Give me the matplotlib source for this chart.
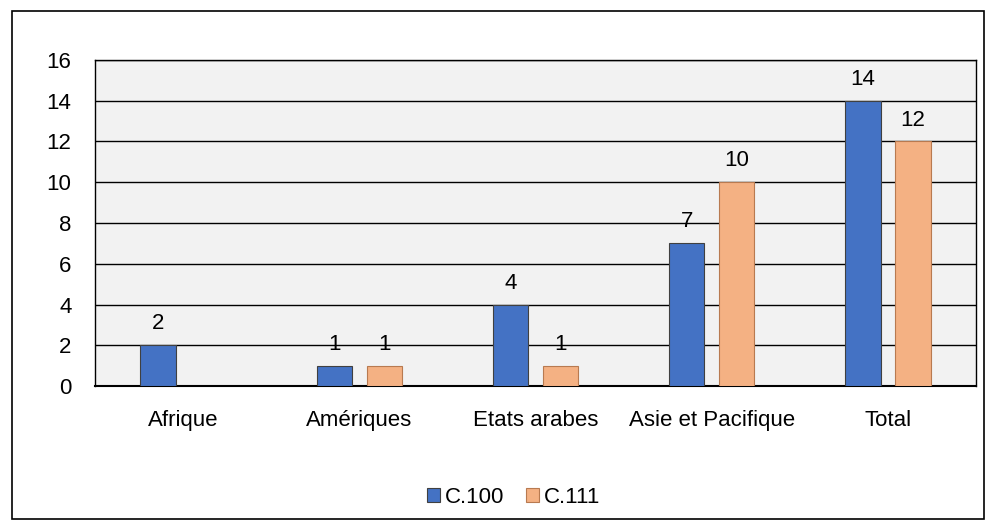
import matplotlib.pyplot as plt
import numpy as np
from matplotlib.patches import Rectangle

plt.rcParams['font.family'] = ['Liberation Sans', 'DejaVu Sans']

regions = ["Afrique", "Amériques", "Etats arabes", "Asie et Pacifique", "Total"]
c100 = [2, 1, 4, 7, 14]
c111 = [0, 1, 1, 10, 12]
yticks = [0, 2, 4, 6, 8, 10, 12, 14, 16]

fs = 16

fig = plt.figure(figsize=(9.97, 5.29), dpi=100)
ax = fig.add_axes([0.0953, 0.2703, 0.8837, 0.6163])
ax.set_facecolor("#f2f2f2")

x = np.arange(len(regions))
w = 0.2
off = 0.142
b1 = ax.bar(x - off, c100, w, color="#4472c4", edgecolor="#404040", linewidth=0.8,
            label="C.100", zorder=3)
c111_vals = [v if v else np.nan for v in c111]
b2 = ax.bar(x + off, c111_vals, w, color="#f4b183", edgecolor="#b87a50", linewidth=0.8,
            label="C.111", zorder=3)

# value labels above each bar
for xs, vals in ((x - off, c100), (x + off, c111)):
    for xi, v in zip(xs, vals):
        if v:
            ax.annotate(str(v), (xi, v), xytext=(0, 11.5), textcoords="offset points",
                        ha="center", va="baseline", fontsize=fs)

ax.set_xlim(-0.5, len(regions) - 0.5)
ax.set_ylim(0, 16)
ax.set_yticks(yticks)
ax.set_xticks(x)
ax.set_xticklabels(regions)
ax.tick_params(axis="both", length=0, labelsize=fs)
ax.tick_params(axis="y", pad=17)
ax.tick_params(axis="x", pad=17)
ax.yaxis.grid(True, color="black", linewidth=1.0, zorder=1)
ax.set_axisbelow(True)
for s in ax.spines.values():
    s.set_color("black")
    s.set_linewidth(1.0)
ax.spines["bottom"].set_linewidth(1.5)

fig.legend(handles=[b1, b2], loc="center", bbox_to_anchor=(0.515, 0.06), ncol=2,
           frameon=False, fontsize=fs, handlelength=0.6, handleheight=0.6,
           handletextpad=0.2, columnspacing=1.0)

fig.patches.append(Rectangle((0.012, 0.018), 0.975, 0.962, transform=fig.transFigure,
                             fill=False, edgecolor="black", linewidth=1.2))

fig.savefig("out.png", dpi=100)
